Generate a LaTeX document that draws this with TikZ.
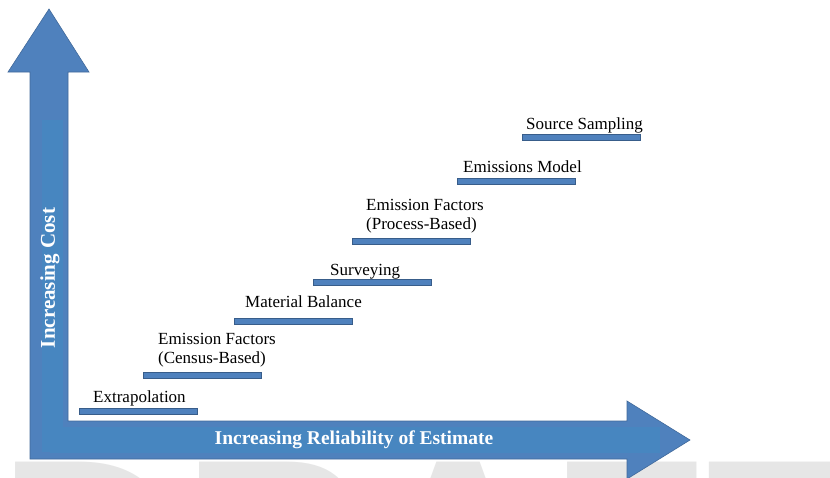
\documentclass[tikz,border=0pt]{standalone}
\usepackage{fontspec}
\setmainfont{Liberation Serif}
\newfontfamily\wmfont{Liberation Sans}
\definecolor{arrowblue}{HTML}{4F81BD}
\definecolor{arrowline}{HTML}{41699A}
\definecolor{boxblue}{HTML}{4786C0}
\definecolor{barline}{HTML}{385D8A}
\definecolor{wmgray}{HTML}{E6E6E6}
\begin{document}
\begin{tikzpicture}[x=1pt,y=-1pt,
  bar/.style={draw=barline, fill=arrowblue, line width=0.8pt, inner sep=0pt,
    minimum width=118pt, minimum height=6pt, anchor=north west},
  lbl/.style={font=\fontsize{17}{18.5}\selectfont, inner sep=0pt, anchor=base west, align=left},
  axislbl/.style={font=\fontsize{19.5}{22}\selectfont\bfseries, text=white, inner sep=0pt}]
\useasboundingbox (0,0) rectangle (830,477);
\begin{scope}
  \clip (0,0) rectangle (830,477);
  \node[font=\wmfont\fontsize{255}{255}\selectfont\bfseries, text=wmgray, inner sep=0pt, anchor=base] (wm) at (430,637) {DRAFT};
\end{scope}
% L-shaped double arrow
\fill[arrowblue, draw=arrowline, line width=0.6pt]
  (49,9) -- (89,72) -- (68,72) -- (68,421) -- (627,421) -- (627,401) -- (690,440)
  -- (627,479) -- (627,459) -- (30,459) -- (30,72) -- (8,72) -- cycle;
% text boxes
\fill[boxblue] (50,427) rectangle (660,453);
\fill[boxblue] (42,120) rectangle (63,452);
\node[axislbl] (xl) at (354,440) {Increasing Reliability of Estimate};
\node[axislbl, rotate=90, font=\fontsize{21}{24}\selectfont\bfseries] (yl) at (50,278) {Increasing Cost};
% steps
\node[bar] (b1) at (79,408) {};
\node[lbl] (t1) at (93,402) {Extrapolation};
\node[bar] (b2) at (143,372) {};
\node[lbl] (t2) at (158,363) {Emission Factors\\(Census-Based)};
\node[bar] (b3) at (234,318) {};
\node[lbl] (t3) at (245,307) {Material Balance};
\node[bar] (b4) at (313,279) {};
\node[lbl] (t4) at (330,275) {Surveying};
\node[bar] (b5) at (352,238) {};
\node[lbl] (t5) at (366,229) {Emission Factors\\(Process-Based)};
\node[bar] (b6) at (457,178) {};
\node[lbl] (t6) at (463,172) {Emissions Model};
\node[bar] (b7) at (522,134) {};
\node[lbl] (t7) at (526,129) {Source Sampling};
\end{tikzpicture}
\end{document}
